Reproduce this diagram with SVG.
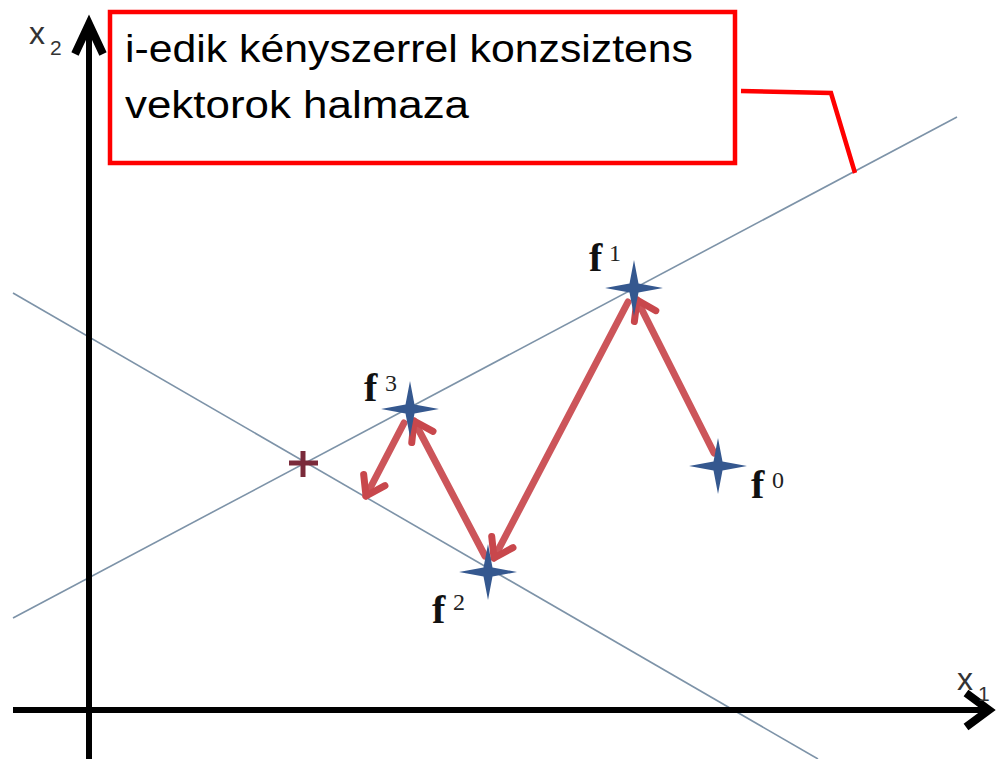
<svg xmlns="http://www.w3.org/2000/svg" width="996" height="759" viewBox="0 0 996 759">
<style>
.thin{stroke:#7d93a8;stroke-width:1.6;fill:none}
.axis{stroke:#000;stroke-width:6;fill:none}
.red{stroke:#c8474c;stroke-width:7;fill:none;stroke-opacity:0.92;stroke-linecap:round}
.star{fill:#35588f}
.fl{font-family:"Liberation Serif",serif;font-weight:bold;font-size:40px;fill:#111}
.sup{font-family:"Liberation Serif",serif;font-size:24px;fill:#222}
.ax{font-family:"Liberation Sans",sans-serif;font-size:32px;fill:#333}
.axs{font-family:"Liberation Sans",sans-serif;font-size:21px;fill:#333}
.box{font-family:"Liberation Sans","Open Sans",sans-serif;font-size:38px;fill:#000}
</style>
<defs>
<marker id="ah" markerUnits="userSpaceOnUse" viewBox="-24 -17 30 34" refX="0" refY="0" markerWidth="30" markerHeight="34" orient="auto">
<path d="M-18,-12 L0,0 L-18,12" stroke="#c8474c" stroke-width="7" fill="none" stroke-linecap="round" stroke-linejoin="round"/>
</marker>
<path id="st" d="M0,-28 L4.5,-4.5 L29,0 L4.5,4.5 L0,28 L-4.5,4.5 L-29,0 L-4.5,-4.5 Z"/>
</defs>
<rect width="996" height="759" fill="#fff"/>
<g id="lines">
<line class="thin" x1="13" y1="618" x2="957" y2="117"/>
<line class="thin" x1="13" y1="293" x2="818" y2="759"/>
</g>
<g id="axes">
<line class="axis" x1="89" y1="759" x2="89" y2="28"/>
<path d="M75,54 L89,24 L103,54" stroke="#000" stroke-width="8" fill="none"/>
<line class="axis" x1="13" y1="710" x2="984" y2="710"/>
<path d="M966,693 L989,710 L966,727" stroke="#000" stroke-width="8" fill="none"/>
<text class="ax" x="29" y="44">x</text><text class="axs" x="50" y="55">2</text>
<text class="ax" x="957" y="690">x</text><text class="axs" x="978" y="701">1</text>
</g>
<g id="cross">
<line x1="303" y1="451" x2="303" y2="477" stroke="#7a2a3a" stroke-width="5"/>
<line x1="289" y1="463" x2="318" y2="463" stroke="#7a2a3a" stroke-width="5"/>
</g>
<g id="connectors">
<line class="red" x1="714" y1="453" x2="637" y2="300" marker-end="url(#ah)"/>
<line class="red" x1="628" y1="302" x2="494" y2="558" marker-end="url(#ah)"/>
<line class="red" x1="485" y1="556" x2="414" y2="421" marker-end="url(#ah)"/>
<line class="red" x1="404" y1="423" x2="366" y2="496" marker-end="url(#ah)"/>
</g>
<g id="f1"><use href="#st" class="star" x="634" y="288"/><text class="fl" x="589" y="271">f</text><text class="sup" x="609" y="261">1</text></g>
<g id="f3"><use href="#st" class="star" x="410" y="409"/><text class="fl" x="364" y="401">f</text><text class="sup" x="385" y="391">3</text></g>
<g id="f0"><use href="#st" class="star" x="718" y="466"/><text class="fl" x="751" y="498">f</text><text class="sup" x="772" y="488">0</text></g>
<g id="f2"><use href="#st" class="star" x="488" y="572"/><text class="fl" x="432" y="623">f</text><text class="sup" x="453" y="610">2</text></g>
<g id="label">
<rect x="110" y="12" width="625" height="151" fill="#fff" stroke="#ff0000" stroke-width="4.5"/>
<text class="box" x="125" y="62" textLength="568" lengthAdjust="spacingAndGlyphs">i-edik kényszerrel konzsiztens</text>
<text class="box" x="125" y="118" textLength="344" lengthAdjust="spacingAndGlyphs">vektorok halmaza</text>
<polyline points="741,91 831,93 855,173" stroke="#ff0000" stroke-width="4.5" fill="none"/>
</g>
</svg>
